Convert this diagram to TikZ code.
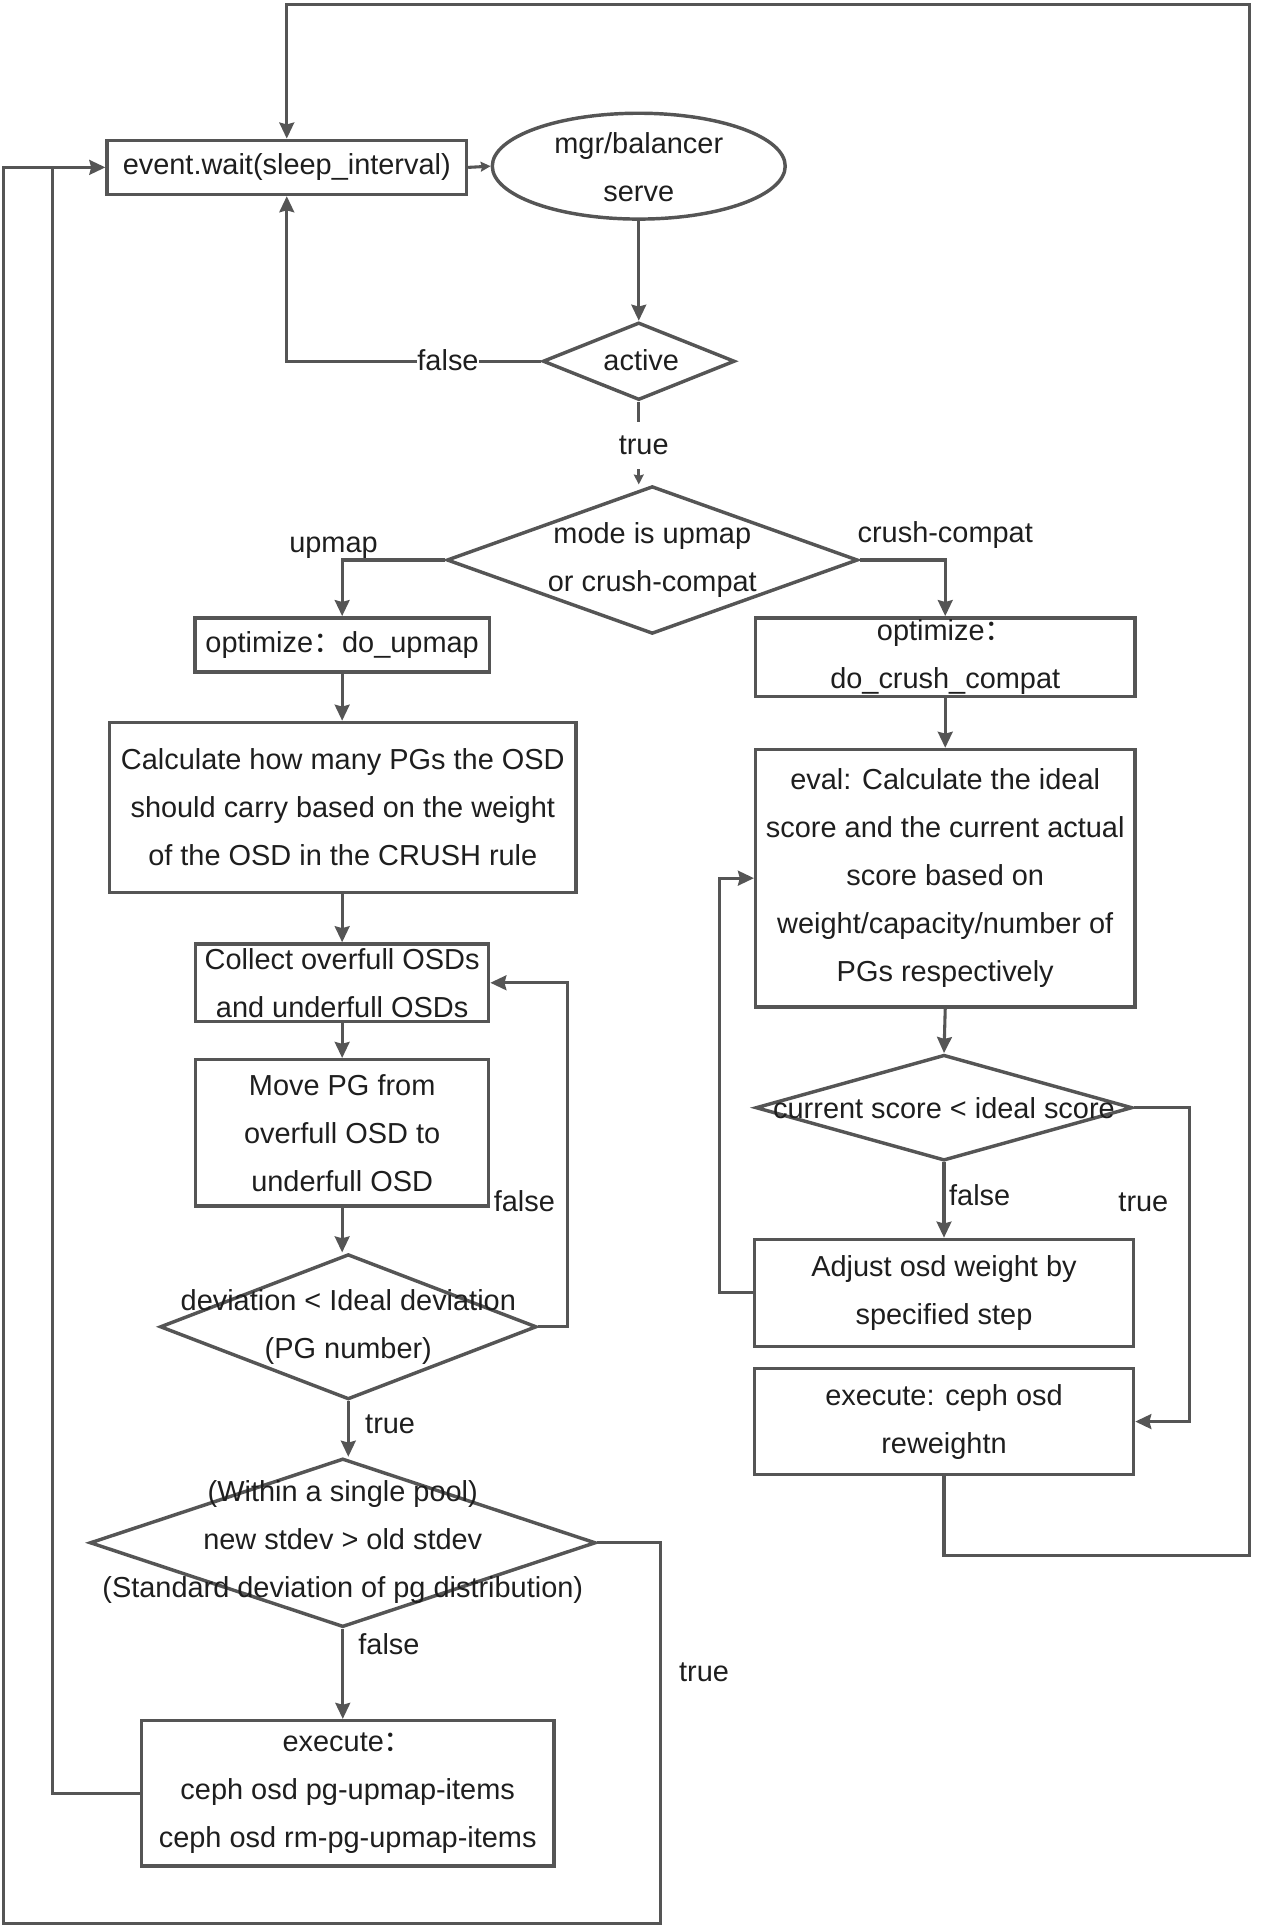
\documentclass[tikz,border=0pt]{standalone}
\usepackage{fontspec}
\setmainfont{Liberation Sans}
\newfontfamily\cjkfont{Noto Sans CJK SC}
\usetikzlibrary{shapes.geometric,arrows.meta,calc}
\definecolor{ln}{HTML}{555555}
\definecolor{tx}{HTML}{1E1E1E}
\newcommand\zw[1]{\makebox[0pt]{#1}}
\newcommand\fwc{{\cjkfont ：}}
\begin{document}
\begin{tikzpicture}[x=1pt,y=-1pt,
  every node/.style={text=tx, font=\fontsize{23.5}{39}\selectfont},
  box/.style={draw=ln, line width=2.8pt, rectangle, inner sep=0pt, align=center},
  dia/.style={draw=ln, line width=2.8pt, diamond, inner sep=0pt},
  txt/.style={align=center, inner sep=0pt},
  conn/.style={draw=ln, line width=2.5pt},
  arr/.style={conn, -{Stealth[length=13pt,width=12pt,inset=1.5pt]}},
  sarr/.style={conn, -{Stealth[length=8pt,width=8pt,inset=1pt]}},
  lbl/.style={inner sep=0pt}
]
\useasboundingbox (0,0) rectangle (1027.8,1566.5);

% ---- nodes ----
\node[box, minimum width=292pt, minimum height=44pt] (ev) at (233,136) {event.wait(sleep\_interval)};
\node[draw=ln, line width=2.8pt, ellipse, minimum width=238pt, minimum height=86pt, inner sep=0pt] (ell) at (519,135) {};
\node[txt] (ellt) at (519,136) {mgr/balancer\\serve};
\node[dia, minimum width=156pt, minimum height=63pt] (act) at (519,293.5) {};
\node[txt] (actt) at (521,293) {active};
\node[dia, minimum width=334pt, minimum height=120pt] (mode) at (530,455) {};
\node[txt] (modet) at (530,455) {mode is upmap\\or crush-compat};
\node[box, minimum width=239pt, minimum height=44pt] (up) at (278,524) {optimize\fwc do\_upmap};
\node[box, minimum width=308pt, minimum height=64pt] (cc) at (768,534) {\zw{optimize\fwc}\\\zw{do\_crush\_compat}};
\node[box, minimum width=379pt, minimum height=138pt] (calc) at (278.5,656) {\zw{Calculate how many PGs the OSD}\\\zw{should carry based on the weight}\\\zw{of the OSD in the CRUSH rule}};
\node[box, minimum width=308pt, minimum height=209pt] (eval) at (768,713.5) {\zw{eval: Calculate the ideal}\\\zw{score and the current actual}\\\zw{score based on}\\\zw{weight/capacity/number of}\\\zw{PGs respectively}};
\node[box, minimum width=238pt, minimum height=63pt] (coll) at (278,798.5) {\zw{Collect overfull OSDs}\\\zw{and underfull OSDs}};
\node[box, minimum width=238pt, minimum height=119pt] (move) at (278,920.5) {\zw{Move PG from}\\\zw{overfull OSD to}\\\zw{underfull OSD}};
\node[dia, minimum width=306pt, minimum height=118pt] (dev) at (283,1078) {};
\node[txt] (devt) at (283,1078.5) {deviation < Ideal deviation\\(PG number)};
\node[dia, minimum width=411pt, minimum height=137pt] (std) at (278.5,1253.5) {};
\node[txt] (stdt) at (278.5,1253) {(Within a single pool)\\new stdev > old stdev\\(Standard deviation of pg distribution)};
\node[box, minimum width=335pt, minimum height=118pt] (exu) at (282.5,1457) {\zw{execute\fwc}\\\zw{ceph osd pg-upmap-items}\\\zw{ceph osd rm-pg-upmap-items}};
\node[dia, minimum width=306pt, minimum height=86pt] (cur) at (767,900) {};
\node[txt] (curt) at (767,900) {current score < ideal score};
\node[box, minimum width=308pt, minimum height=87pt] (adj) at (767,1050.5) {\zw{Adjust osd weight by}\\\zw{specified step}};
\node[box, minimum width=308pt, minimum height=86pt] (exo) at (767,1155) {\zw{execute: ceph osd}\\\zw{reweightn}};

% ---- connectors ----
\draw[sarr] (ev.east) -- (ell.west);
\draw[arr] (ell.south) -- (act.north);
\draw[arr] (act.west) -| (ev.south);
\node[lbl, fill=white, minimum height=20pt] (lf1) at (364,293) {false};
\draw[sarr] (act.south) -- (act.south |- mode.north);
\node[lbl, fill=white, minimum height=38pt] (lt1) at (523,362) {true};
\draw[arr] (mode.west) -| (up.north);
\node[lbl] (lup) at (271,445) {upmap};
\draw[arr] (mode.east) -| (cc.north);
\node[lbl] (lcc) at (768,435) {crush-compat};
\draw[arr] (up.south) -- (up.south |- calc.north);
\draw[arr] (calc.south -| coll.north) -- (coll.north);
\draw[arr] (coll.south) -- (move.north);
\draw[arr] (move.south) -- (move.south |- dev.north);
\draw[arr] (dev.east) -- ++(24,0) |- (coll.east);
\node[lbl] (lf2) at (426,976) {false};
\draw[arr] (dev.south) -- (dev.south |- std.north);
\node[lbl] (lt2) at (317,1157) {true};
\draw[arr] (std.east) -| (537,1563) -| (3,136) -- (ev.west);
\node[lbl] (lt3) at (572,1359) {true};
\draw[arr] (std.south) -- (std.south |- exu.north);
\node[lbl] (lf3) at (316,1336) {false};
\draw[conn] (exu.west) -| (43,136);
\draw[arr] (cc.south) -- (eval.north);
\draw[arr] (eval.south) -- (cur.north);
\draw[arr] (cur.south) -- (adj.north);
\node[lbl] (lf4) at (796,971) {false};
\draw[arr] (adj.west) -- ++(-27,0) |- (eval.west);
\draw[arr] (cur.east) -- ++(45,0) |- (exo.east);
\node[lbl] (lt4) at (929,977) {true};
\draw[arr] (exo.south) -- (767,1264) -| (1015,4) -| (ev.north);
\end{tikzpicture}
\end{document}
